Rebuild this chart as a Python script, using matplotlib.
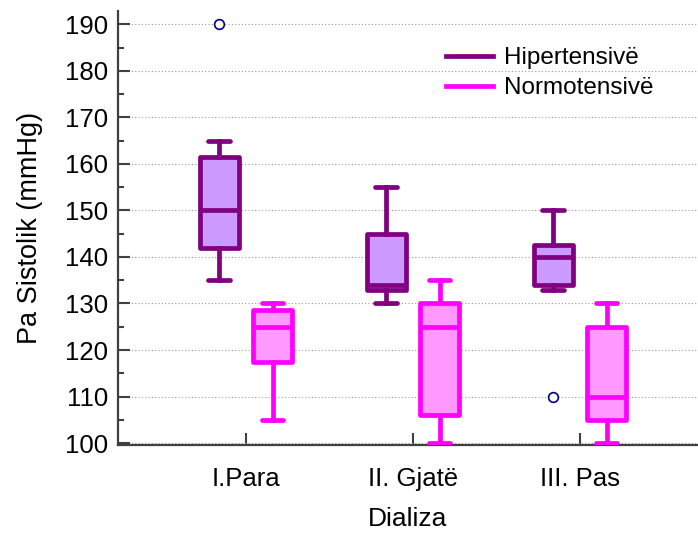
import matplotlib
matplotlib.use("Agg")
import matplotlib.pyplot as plt
from matplotlib.lines import Line2D

plt.rcParams['font.family'] = ['Liberation Sans', 'DejaVu Sans']

# Five-number summaries per dialysis stage
stages = ["I.Para", "II. Gjatë", "III. Pas"]

hiper_whislo = [135, 130, 133]
hiper_q1 = [142, 133, 134]
hiper_med = [150, 134, 140]
hiper_q3 = [161.5, 145, 142.5]
hiper_whishi = [165, 155, 150]
hiper_fliers = [[190], [], [110]]

normo_whislo = [105, 100, 100]
normo_q1 = [117.5, 106, 105]
normo_med = [125, 125, 110]
normo_q3 = [128.5, 130, 125]
normo_whishi = [130, 135, 130]
normo_fliers = [[], [], []]

series_names = ["Hipertensivë", "Normotensivë"]
edge_colors = ["#800080", "#FF00FF"]
face_colors = ["#CC99FF", "#FF99FF"]


def make_stats(lo, q1, med, q3, hi, fl):
    return [dict(whislo=a, q1=b, med=c, q3=d, whishi=e, fliers=f)
            for a, b, c, d, e, f in zip(lo, q1, med, q3, hi, fl)]


hiper_stats = make_stats(hiper_whislo, hiper_q1, hiper_med, hiper_q3, hiper_whishi, hiper_fliers)
normo_stats = make_stats(normo_whislo, normo_q1, normo_med, normo_q3, normo_whishi, normo_fliers)

fig = plt.figure(figsize=(6.98, 5.34), dpi=100)
ax = fig.add_axes([0.169, 0.1667, 0.831, 0.8123])

positions = [1, 2, 3]
offset = 0.16
lw = 3.4

for stats, shift, ec, fc in [(hiper_stats, -offset, edge_colors[0], face_colors[0]),
                             (normo_stats, offset, edge_colors[1], face_colors[1])]:
    ax.bxp(stats, positions=[p + shift for p in positions], widths=0.235,
           capwidths=0.13, patch_artist=True, manage_ticks=False,
           boxprops=dict(facecolor=fc, edgecolor=ec, linewidth=lw, joinstyle='round'),
           medianprops=dict(color=ec, linewidth=lw, solid_capstyle='butt'),
           whiskerprops=dict(color=ec, linewidth=lw),
           capprops=dict(color=ec, linewidth=lw, solid_capstyle='round'),
           flierprops=dict(marker='o', markersize=7, markerfacecolor='white',
                           markeredgecolor='#000080', markeredgewidth=1.2,
                           linestyle='none'),
           zorder=3)

ax.set_xlim(0.234, 3.707)
ax.set_ylim(99.6, 192.8)
ax.set_xticks(positions)
ax.set_xticklabels(stages)
ax.set_yticks(range(100, 191, 10))
ax.set_yticks(range(105, 191, 10), minor=True)

ax.yaxis.grid(True, which='major', linestyle=(0, (1, 2)), color='#999999', linewidth=0.8)
ax.set_axisbelow(True)

for side in ['top', 'right']:
    ax.spines[side].set_visible(False)
for side in ['left', 'bottom']:
    ax.spines[side].set_color('#404040')
    ax.spines[side].set_linewidth(1.6)

ax.tick_params(axis='both', which='major', direction='in', length=8.4, width=1.5,
               color='#404040', labelsize=18.5)
ax.tick_params(axis='y', which='minor', direction='in', length=4.3, width=1.5, color='#404040')
ax.tick_params(axis='y', which='major', pad=7)
ax.tick_params(axis='x', which='major', pad=16)

ax.set_ylabel("Pa Sistolik (mmHg)", fontsize=19.5, labelpad=16)
ax.set_xlabel("Dializa", fontsize=19, labelpad=11.5)

handles = [Line2D([], [], color=c, linewidth=lw) for c in edge_colors]
ax.legend(handles, series_names, loc='upper left', bbox_to_anchor=(0.625, 0.93),
          bbox_transform=fig.transFigure, frameon=False, fontsize=17.5,
          handlelength=1.95, handletextpad=0.45, labelspacing=0.33, borderaxespad=0)

fig.savefig("out.png", dpi=100)
